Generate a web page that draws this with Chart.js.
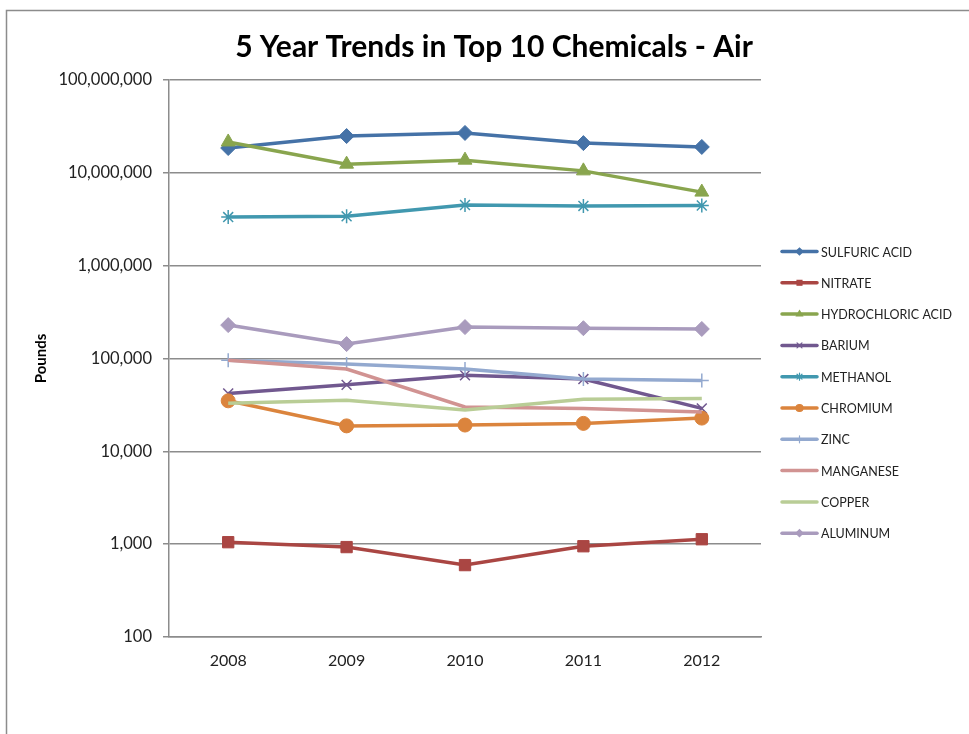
<!DOCTYPE html>
<html>
<head>
<meta charset="utf-8">
<script src="https://cdn.jsdelivr.net/npm/chart.js@4/dist/chart.umd.min.js"></script>
<style>
  html, body { margin: 0; padding: 0; background: #fff; }
  #wrap { position: relative; width: 969px; height: 734px; }
</style>
</head>
<body>
<div id="wrap"><canvas id="trendChart" width="969" height="734"></canvas></div>
<script>
// Years on the x axis
const years = ['2008', '2009', '2010', '2011', '2012'];

// Pounds released to air, per chemical
const sulfuricAcid = [18500000, 24900000, 26900000, 20900000, 19000000];
const nitrate = [1050, 930, 595, 950, 1130];
const hydrochloricAcid = [21500000, 12400000, 13700000, 10500000, 6200000];
const barium = [42000, 52000, 66000, 60000, 29000];
const methanol = [3340000, 3400000, 4500000, 4400000, 4450000];
const chromium = [35000, 18800, 19200, 20000, 22800];
const zinc = [96000, 87000, 77000, 60000, 58000];
const manganese = [96000, 77000, 30000, 29000, 26500];
const copper = [33000, 35500, 27800, 36500, 37000];
const aluminum = [229000, 143000, 218000, 212000, 208000];

// Log axis tick values
const yTicks = [100, 1000, 10000, 100000, 1000000, 10000000, 100000000];

const FONT = 'Lato, "Open Sans", sans-serif';
const GRID = '#8c8c8c';

function serie(label, data, color, style, radius) {
    return {
        label: label,
        data: data,
        borderColor: color,
        backgroundColor: color,
        borderWidth: 3.5,
        pointStyle: style,
        pointRadius: radius,
        pointHoverRadius: radius,
        pointBorderWidth: style === 'star' || style === 'cross' || style === 'crossRot' ? 1.5 : 1,
        tension: 0
    };
}

const datasets = [
    serie('SULFURIC ACID', sulfuricAcid, '#4572A7', 'rectRot', 7.5),
    serie('NITRATE', nitrate, '#AA4643', 'rect', 8),
    serie('HYDROCHLORIC ACID', hydrochloricAcid, '#89A54E', 'triangle', 8),
    serie('BARIUM', barium, '#71588F', 'crossRot', 7),
    serie('METHANOL', methanol, '#4198AF', 'star', 7),
    serie('CHROMIUM', chromium, '#DB843D', 'circle', 7),
    serie('ZINC', zinc, '#93A9CF', 'cross', 7),
    serie('MANGANESE', manganese, '#D19392', 'circle', 0),
    serie('COPPER', copper, '#B9CD96', 'circle', 0),
    serie('ALUMINUM', aluminum, '#A99BBD', 'rectRot', 7.5)
];
// later series sit on top, like the original
datasets.forEach((d, i) => { d.order = datasets.length - i; });

// Frame, title and legend drawn by hand
const decorPlugin = {
    id: 'decor',
    beforeDraw(chart) {
        const c = chart.ctx;
        c.save();
        c.fillStyle = '#fff';
        c.fillRect(0, 0, chart.width, chart.height);
        c.strokeStyle = GRID;
        c.lineWidth = 1.5;
        c.strokeRect(6.5, 10.5, 2000, 2000);
        c.restore();
    },
    afterDraw(chart) {
        const c = chart.ctx;
        c.save();
        c.fillStyle = '#000';
        c.font = 'bold 30px ' + FONT;
        c.textAlign = 'center';
        c.textBaseline = 'middle';
        c.fillText('5 Year Trends in Top 10 Chemicals - Air', 494, 47);

        // legend
        c.font = '12.5px ' + FONT;
        c.textAlign = 'left';
        chart.data.datasets.forEach((ds, i) => {
            const y = 251.5 + i * 31.3;
            c.strokeStyle = ds.borderColor;
            c.lineWidth = 3.5;
            c.lineCap = 'round';
            c.beginPath();
            c.moveTo(782, y);
            c.lineTo(817, y);
            c.stroke();
            if (ds.pointRadius > 0) {
                c.fillStyle = ds.backgroundColor;
                c.strokeStyle = ds.borderColor;
                c.lineWidth = 1.2;
                Chart.helpers.drawPoint(c, {
                    pointStyle: ds.pointStyle,
                    radius: 3.5,
                    rotation: 0,
                    borderWidth: 1.2
                }, 799.5, y);
            }
            c.fillStyle = '#222';
            c.fillText(ds.label, 821, y + 1);
        });
        c.restore();
    }
};

const ctx = document.getElementById('trendChart').getContext('2d');
const trendChart = new Chart(ctx, {
    type: 'line',
    data: { labels: years, datasets: datasets },
    options: {
        responsive: false,
        animation: false,
        events: [],
        layout: { padding: { top: 80, right: 208, bottom: 57, left: 0 } },
        plugins: {
            legend: { display: false },
            title: { display: false },
            tooltip: { enabled: false }
        },
        scales: {
            x: {
                offset: true,
                grid: { display: false, offset: true },
                border: { display: true, color: GRID, width: 1.5 },
                ticks: { color: '#222', font: { family: FONT, size: 16 }, padding: 6, maxRotation: 0 },
                afterFit(scale) { scale.height = 40; }
            },
            y: {
                type: 'logarithmic',
                min: 100,
                max: 100000000,
                afterBuildTicks(scale) {
                    scale.ticks = yTicks.map(v => ({ value: v, major: true }));
                },
                afterFit(scale) { scale.width = 169; },
                grid: { color: GRID, lineWidth: 1.5, tickLength: 6, drawTicks: true },
                border: { display: true, color: GRID, width: 1.5 },
                ticks: {
                    color: '#222',
                    font: { family: FONT, size: 16.5 },
                    padding: 11,
                    autoSkip: false,
                    callback: v => Number(v).toLocaleString('en-US')
                },
                title: {
                    display: true,
                    text: 'Pounds',
                    color: '#000',
                    font: { family: FONT, size: 15, weight: 'bold' },
                    padding: { top: 32, bottom: 0 }
                }
            }
        }
    },
    plugins: [decorPlugin]
});
</script>
</body>
</html>
